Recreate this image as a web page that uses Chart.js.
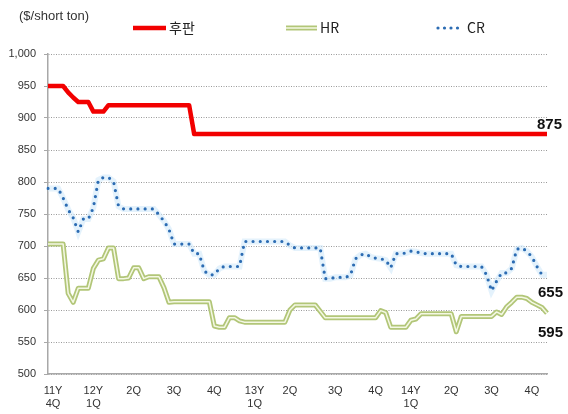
<!DOCTYPE html>
<html>
<head>
<meta charset="utf-8">
<script src="https://cdn.jsdelivr.net/npm/chart.js@4"></script>
<style>
    html, body { margin: 0; padding: 0; background: #fff; }
    #wrap { width: 568px; height: 414px; }
</style>
</head>
<body>
<div id="wrap"><canvas id="steelChart" width="568" height="414"></canvas></div>
<script>
// Weekly prices, $/short ton (11Y 4Q .. 14Y 4Q)
const quarterLabels = [['11Y', '4Q'], ['12Y', '1Q'], '2Q', '3Q', '4Q', ['13Y', '1Q'], '2Q', '3Q', '4Q', ['14Y', '1Q'], '2Q', '3Q', '4Q'];
const quarterIndex = [1, 9, 17, 25, 33, 41, 48, 57, 65, 72, 80, 88, 96];
const seriesNames = ['후판', 'HR', 'CR'];
const unitLabel = '($/short ton)';

const plate = [
    950, 950, 950, 950, 940, 932, 925, 925, 925, 910,
    910, 910, 920, 920, 920, 920, 920, 920, 920, 920,
    920, 920, 920, 920, 920, 920, 920, 920, 920, 875,
    875, 875, 875, 875, 875, 875, 875, 875, 875, 875,
    875, 875, 875, 875, 875, 875, 875, 875, 875, 875,
    875, 875, 875, 875, 875, 875, 875, 875, 875, 875,
    875, 875, 875, 875, 875, 875, 875, 875, 875, 875,
    875, 875, 875, 875, 875, 875, 875, 875, 875, 875,
    875, 875, 875, 875, 875, 875, 875, 875, 875, 875,
    875, 875, 875, 875, 875, 875, 875, 875, 875, 875
];
const hotRolled = [
    703, 703, 703, 703, 626, 612, 634, 634, 634, 665,
    678, 680, 697, 697, 649, 649, 650, 666, 666, 649,
    652, 652, 652, 635, 612, 613, 613, 613, 613, 613,
    613, 613, 613, 575, 573, 573, 588, 588, 583, 581,
    581, 581, 581, 581, 581, 581, 581, 581, 600, 608,
    608, 608, 608, 608, 598, 588, 588, 588, 588, 588,
    588, 588, 588, 588, 588, 588, 599, 596, 573, 573,
    573, 573, 584, 586, 594, 594, 594, 594, 594, 594,
    594, 566, 590, 590, 590, 590, 590, 590, 590, 597,
    593, 605, 612, 620, 620, 618, 612, 608, 604, 595
];
const coldRolled = [
    790, 790, 790, 775, 757, 744, 722, 742, 742, 760,
    803, 807, 807, 801, 762, 758, 758, 758, 758, 758,
    758, 758, 749, 739, 726, 703, 703, 703, 703, 688,
    688, 661, 655, 655, 665, 668, 668, 668, 668, 707,
    707, 707, 707, 707, 707, 707, 707, 707, 701, 697,
    697, 697, 697, 697, 697, 649, 649, 651, 651, 651,
    654, 680, 686, 688, 683, 681, 680, 678, 666, 688,
    688, 689, 692, 691, 689, 688, 688, 688, 688, 688,
    688, 670, 668, 668, 668, 668, 668, 655, 630, 645,
    658, 658, 665, 695, 697, 692, 683, 668, 655, 655
];

const labels = plate.map((v, i) => {
    const q = quarterIndex.indexOf(i);
    return q >= 0 ? quarterLabels[q] : '';
});

const RED = '#f20000';
const GREEN = '#b2c678';
const GREEN_IN = '#f4f8e4';
const BLUE = '#2c6cb3';

// legend + unit label drawn at the top
const topLegend = {
    id: 'topLegend',
    afterDraw(chart) {
        const ctx = chart.ctx;
        ctx.save();
        ctx.fillStyle = '#333';
        ctx.textBaseline = 'middle';
        ctx.font = '13px "Liberation Sans", sans-serif';
        ctx.fillText(unitLabel, 19, 16);

        const y = 28;
        const items = [
            { x: 133, w: 33, kind: 'plate' },
            { x: 286, w: 31, kind: 'hr' },
            { x: 437, w: 27, kind: 'cr' }
        ];
        items.forEach((it, i) => {
            ctx.save();
            if (it.kind === 'plate') {
                ctx.strokeStyle = RED; ctx.lineWidth = 4.5;
                ctx.beginPath(); ctx.moveTo(it.x, y); ctx.lineTo(it.x + it.w, y); ctx.stroke();
            } else if (it.kind === 'hr') {
                ctx.strokeStyle = GREEN; ctx.lineWidth = 5;
                ctx.beginPath(); ctx.moveTo(it.x, y); ctx.lineTo(it.x + it.w, y); ctx.stroke();
                ctx.strokeStyle = GREEN_IN; ctx.lineWidth = 1.5;
                ctx.beginPath(); ctx.moveTo(it.x, y); ctx.lineTo(it.x + it.w, y); ctx.stroke();
            } else {
                ctx.strokeStyle = BLUE; ctx.lineWidth = 3.2; ctx.lineCap = 'round';
                ctx.setLineDash([0, 6.5]);
                ctx.beginPath(); ctx.moveTo(it.x + 1, y); ctx.lineTo(it.x + it.w, y); ctx.stroke();
            }
            ctx.restore();
            ctx.fillStyle = '#222';
            ctx.font = '14px "Noto Sans CJK KR", "Liberation Sans", sans-serif';
            ctx.fillText(seriesNames[i], it.x + it.w + 3, y);
        });
        ctx.restore();
    }
};

// last value printed next to the end of each line
const endLabels = {
    id: 'endLabels',
    afterDatasetsDraw(chart) {
        const ctx = chart.ctx;
        ctx.save();
        ctx.fillStyle = '#111';
        ctx.font = 'bold 15px "Liberation Sans", sans-serif';
        ctx.textAlign = 'left';
        chart.data.datasets.forEach((ds, i) => {
            if (!ds.endLabel) return;
            const pts = chart.getDatasetMeta(i).data;
            const last = pts[pts.length - 1];
            const val = ds.data[ds.data.length - 1];
            ctx.textBaseline = ds.endLabel.baseline;
            ctx.fillText(String(val), last.x + ds.endLabel.dx, last.y + ds.endLabel.dy);
        });
        ctx.restore();
    }
};

Chart.defaults.font.family = '"Liberation Sans", "Noto Sans CJK KR", sans-serif';
Chart.defaults.color = '#333';

new Chart(document.getElementById('steelChart'), {
    type: 'line',
    data: {
        labels: labels,
        datasets: [
            {
                label: seriesNames[0],
                data: plate,
                borderColor: RED,
                borderWidth: 4.5,
                borderJoinStyle: 'round',
                pointRadius: 0,
                tension: 0,
                endLabel: { dx: -10, dy: -2, baseline: 'bottom' }
            },
            {
                label: seriesNames[2],
                data: coldRolled,
                borderColor: BLUE,
                borderWidth: 3.2,
                borderDash: [0, 7.2],
                borderCapStyle: 'round',
                pointRadius: 0,
                tension: 0,
                endLabel: { dx: -9, dy: 11, baseline: 'top' }
            },
            {
                label: 'HR inner',
                data: hotRolled,
                borderColor: GREEN_IN,
                borderWidth: 1.5,
                borderJoinStyle: 'round',
                pointRadius: 0,
                tension: 0
            },
            {
                label: seriesNames[1],
                data: hotRolled,
                borderColor: GREEN,
                borderWidth: 5,
                borderJoinStyle: 'round',
                pointRadius: 0,
                tension: 0,
                endLabel: { dx: -9, dy: 12, baseline: 'top' }
            },
            {
                label: 'CR halo',
                data: coldRolled,
                borderColor: 'rgba(210, 234, 250, 0.6)',
                borderWidth: 6,
                pointRadius: 0,
                tension: 0
            }
        ]
    },
    options: {
        responsive: false,
        animation: false,
        devicePixelRatio: 1,
        layout: {
            padding: { top: 54, right: 21, bottom: 2, left: 0 }
        },
        plugins: {
            legend: { display: false },
            tooltip: { enabled: false }
        },
        scales: {
            x: {
                grid: { display: false, drawTicks: false },
                border: { display: true, color: '#a8a8a8', width: 1.5 },
                ticks: {
                    autoSkip: false,
                    maxRotation: 0,
                    padding: 10,
                    color: '#333',
                    font: { size: 11 }
                },
                afterFit: (scale) => { scale.height = 38; }
            },
            y: {
                min: 500,
                max: 1000,
                grid: {
                    color: '#9a9a9a',
                    tickColor: '#a8a8a8',
                    tickLength: 4,
                    tickBorderDash: []
                },
                border: { display: true, color: '#a8a8a8', width: 1.5, dash: [1, 1.5] },
                ticks: {
                    stepSize: 50,
                    padding: 8,
                    color: '#333',
                    font: { size: 11 },
                    callback: (v) => v.toLocaleString('en-US')
                },
                afterFit: (scale) => { scale.width = 48; }
            }
        }
    },
    plugins: [topLegend, endLabels]
});
</script>
</body>
</html>
